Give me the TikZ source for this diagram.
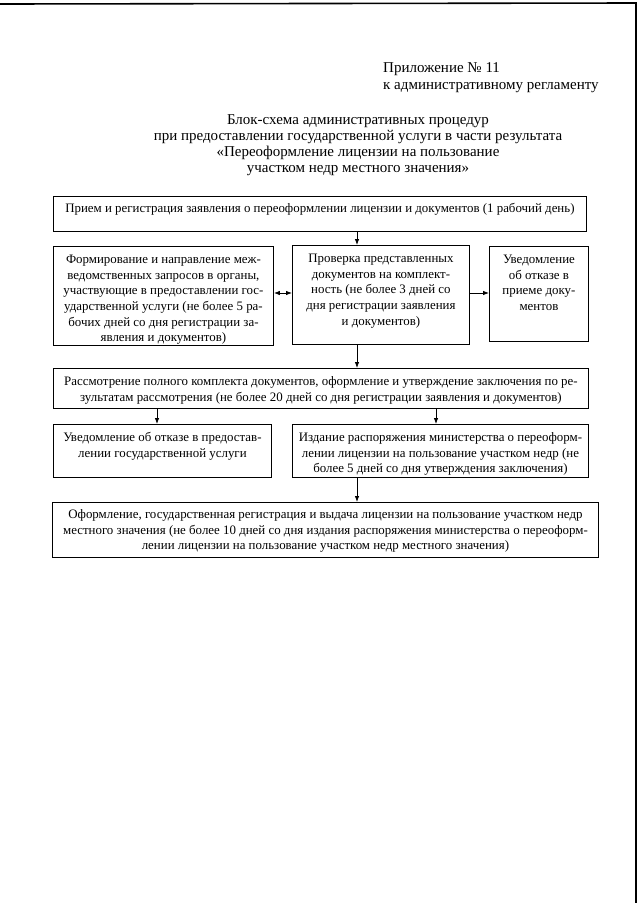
\documentclass[tikz,border=0pt]{standalone}
\usepackage{fontspec}
\setmainfont{Liberation Serif}
\usetikzlibrary{arrows.meta}
\tikzset{
  blk/.style={draw, line width=0.9pt, anchor=north west, inner xsep=4pt, inner ysep=8.5pt,
              font=\fontsize{12.9}{15.7}\selectfont},
  ar/.style={-{Latex[length=6pt,width=4.5pt]}, line width=0.8pt},
  dar/.style={{Latex[length=6pt,width=4.5pt]}-{Latex[length=6pt,width=4.5pt]}, line width=0.8pt},
  ttl/.style={inner sep=0pt, align=center, font=\fontsize{15}{16.3}\selectfont},
  edge/.style={line width=1.6pt}
}
% text cell: width, height, lines (top aligned, centred)
\newcommand{\cell}[3]{\parbox[c][#2][t]{#1}{\centering #3}}

\begin{document}
\begin{tikzpicture}[x=1pt, y=-1pt]
\useasboundingbox (0,0) rectangle (640,903);
% scan edges
\draw[edge] (0,4) -- (636,3) -- (636,903);

% heading
\node[ttl, anchor=base west] (pril) at (383,72) {Приложение № 11};
\node[ttl, anchor=base west] (regl) at (383,89) {к административному регламенту};
\node[ttl, anchor=north] (title) at (358,114) {Блок-схема административных процедур\\
  при предоставлении государственной услуги в части результата\\
  «Переоформление лицензии на пользование\\
  участком недр местного значения»};

% blocks
\node[blk, inner ysep=7pt] (priem) at (53,196) {\cell{525pt}{21pt}{Прием и регистрация заявления о переоформлении лицензии и документов (1 рабочий день)}};
\node[blk] (mezhved) at (53,246) {\cell{212pt}{82pt}{Формирование и направление меж-\\ведомственных запросов в органы,\\участвующие в предоставлении гос-\\ударственной услуги (не более 5 ра-\\бочих дней со дня регистрации за-\\явления и документов)}};
\node[blk] (prov) at (292,245) {\cell{169pt}{82pt}{Проверка представленных\\документов на комплект-\\ность (не более 3 дней со\\дня регистрации заявления\\и документов)}};
\node[blk] (otkaz) at (489,246) {\cell{91pt}{78pt}{Уведомление\\об отказе в\\приеме доку-\\ментов}};
\node[blk] (rassm) at (53,368) {\cell{527pt}{23pt}{Рассмотрение полного комплекта документов, оформление и утверждение заключения по ре-\\зультатам рассмотрения (не более 20 дней со дня регистрации заявления и документов)}};
\node[blk, inner ysep=8pt] (otkazusl) at (53,424) {\cell{210pt}{37pt}{Уведомление об отказе в предостав-\\лении государственной услуги}};
\node[blk, inner ysep=8pt] (izdan) at (292,424) {\cell{288pt}{37pt}{Издание распоряжения министерства о переоформ-\\лении лицензии на пользование участком недр (не\\более 5 дней со дня утверждения заключения)}};
\node[blk, inner ysep=7pt] (vydacha) at (52,502) {\cell{538pt}{41pt}{Оформление, государственная регистрация и выдача лицензии на пользование участком недр\\местного значения (не более 10 дней со дня издания распоряжения министерства о переоформ-\\лении лицензии на пользование участком недр местного значения)}};

% connectors
\coordinate (cx) at (357,0);
\coordinate (lx) at (157,0);
\coordinate (rx) at (436,0);
\draw[ar] (priem.south -| cx) -- (prov.north -| cx);
\draw[dar] (mezhved.east |- 0,293) -- (prov.west |- 0,293);
\draw[ar] (prov.east |- 0,293) -- (otkaz.west |- 0,293);
\draw[ar] (prov.south -| cx) -- (rassm.north -| cx);
\draw[ar] (rassm.south -| lx) -- (otkazusl.north -| lx);
\draw[ar] (rassm.south -| rx) -- (izdan.north -| rx);
\draw[ar] (izdan.south -| cx) -- (vydacha.north -| cx);
\end{tikzpicture}
\end{document}
